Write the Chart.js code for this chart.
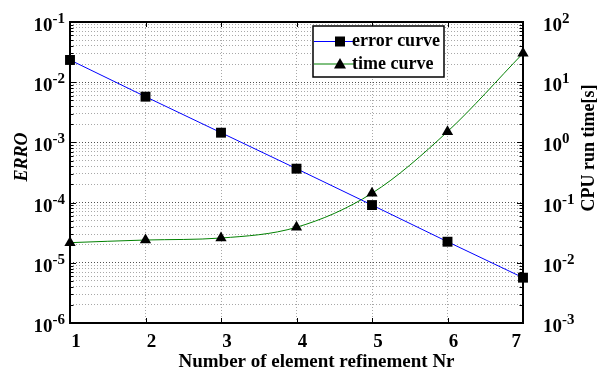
<!DOCTYPE html>
<html><head><meta charset="utf-8">
<script src="https://cdn.jsdelivr.net/npm/chart.js@4/dist/chart.umd.min.js"></script>
<style>html,body{margin:0;padding:0;background:#fff}</style>
</head><body>
<canvas id="c" width="597" height="374"></canvas>
<script>
const categories = ['1','2','3','4','5','6','7'];
const errorValues = [2.34e-2, 5.75e-3, 1.45e-3, 3.66e-4, 9.1e-5, 2.24e-5, 5.66e-6];
const timeValues = [0.0216, 0.0239, 0.0258, 0.0389, 0.143, 1.51, 30.2];
const leftRange = [1e-6, 1e-1];
const rightRange = [1e-3, 1e2];
const seriesNames = ['error curve', 'time curve'];
const xTitle = 'Number of element refinement Nr';
const leftTitle = 'ERRO';
const rightTitle = 'CPU run time[s]';

const SERIF = "'Liberation Serif','Times New Roman',serif";
function isDecade(v){ const l = Math.log10(v); return Math.abs(l - Math.round(l)) < 1e-6; }
function exponentOf(v){ return String(Math.round(Math.log10(v))); }
function logTicks(min, max){
  const out = [];
  const d0 = Math.round(Math.log10(min)), d1 = Math.round(Math.log10(max));
  for (let d = d0; d <= d1; d++) {
    for (let m = 1; m <= 9; m++) {
      const v = Number((m * Math.pow(10, d)).toPrecision(12));
      if (v > max * 1.0000001) break;
      out.push({value: v});
    }
  }
  return out;
}

const BASE_FONT = 'bold 19px ' + SERIF;
const EXP_FONT = 'bold 15px ' + SERIF;

function drawPowerLabel(ctx, v, x, y, side){
  const base = '10', exp = exponentOf(v);
  ctx.font = BASE_FONT; const bw = ctx.measureText(base).width;
  ctx.font = EXP_FONT; const ew = ctx.measureText(exp).width;
  const startX = side === 'left' ? x - bw - ew : x;
  ctx.textAlign = 'left'; ctx.textBaseline = 'alphabetic';
  ctx.font = BASE_FONT; ctx.fillText(base, startX, y + 9);
  ctx.font = EXP_FONT; ctx.fillText(exp, startX + bw, y + 1);
}

const overlay = {
  id: 'overlay',
  afterDatasetsDraw(chart){
    const {ctx, chartArea: a, scales} = chart;
    ctx.save();
    // inward ticks
    ctx.strokeStyle = '#000'; ctx.lineWidth = 1;
    scales.y.ticks.forEach(t => {
      const y = Math.round(scales.y.getPixelForValue(t.value)) + 0.5;
      const len = isDecade(t.value) ? 6 : 3.5;
      ctx.beginPath(); ctx.moveTo(a.left, y); ctx.lineTo(a.left + len, y); ctx.stroke();
    });
    scales.y1.ticks.forEach(t => {
      const y = Math.round(scales.y1.getPixelForValue(t.value)) + 0.5;
      const len = isDecade(t.value) ? 6 : 3.5;
      ctx.beginPath(); ctx.moveTo(a.right, y); ctx.lineTo(a.right - len, y); ctx.stroke();
    });
    scales.x.ticks.forEach((t, i) => {
      const x = Math.round(scales.x.getPixelForValue(i)) + 0.5;
      ctx.beginPath(); ctx.moveTo(x, a.bottom); ctx.lineTo(x, a.bottom - 5); ctx.stroke();
      ctx.beginPath(); ctx.moveTo(x, a.top); ctx.lineTo(x, a.top + 5); ctx.stroke();
    });
    // frame
    ctx.lineWidth = 2;
    ctx.strokeRect(a.left, a.top, a.right - a.left, a.bottom - a.top);

    // tick labels
    ctx.fillStyle = '#000';
    scales.y.ticks.forEach(t => {
      if (isDecade(t.value)) drawPowerLabel(ctx, t.value, a.left - 5, scales.y.getPixelForValue(t.value), 'left');
    });
    scales.y1.ticks.forEach(t => {
      if (isDecade(t.value)) drawPowerLabel(ctx, t.value, a.right + 20, scales.y1.getPixelForValue(t.value), 'right');
    });
    ctx.font = BASE_FONT; ctx.textBaseline = 'alphabetic'; ctx.textAlign = 'center';
    categories.forEach((lab, i) => {
      const w = ctx.measureText(lab).width;
      let x = scales.x.getPixelForValue(i) + 6;
      x = Math.min(x, a.right - 2 - w / 2);
      ctx.fillText(lab, x, 347);
    });

    // legend
    const lx = 313, ly = 26, lw = 131, lh = 51;
    ctx.fillStyle = '#fff';
    ctx.fillRect(lx, ly, lw, lh);
    ctx.lineWidth = 1.5; ctx.strokeStyle = '#000';
    ctx.strokeRect(lx, ly, lw, lh);
    const rows = [41.5, 64];
    chart.data.datasets.forEach((ds, i) => {
      const y = rows[i];
      ctx.strokeStyle = ds.borderColor; ctx.lineWidth = 1;
      ctx.beginPath(); ctx.moveTo(lx + 1, y); ctx.lineTo(lx + 41, y); ctx.stroke();
      ctx.fillStyle = '#000';
      const mx = lx + 27;
      if (ds.pointStyle === 'rect') {
        ctx.fillRect(mx - 5, y - 5, 10, 10);
      } else {
        ctx.beginPath(); ctx.moveTo(mx, y - 6); ctx.lineTo(mx + 6, y + 4.5); ctx.lineTo(mx - 6, y + 4.5); ctx.closePath(); ctx.fill();
      }
      ctx.fillStyle = '#000';
      ctx.font = 'bold 18px ' + SERIF;
      ctx.textAlign = 'left'; ctx.textBaseline = 'middle';
      ctx.fillText(ds.label, lx + 39, y);
    });

    // axis titles
    ctx.fillStyle = '#000';
    ctx.textAlign = 'center'; ctx.textBaseline = 'middle';
    ctx.font = 'italic bold 18px ' + SERIF;
    ctx.save(); ctx.translate(22, 157); ctx.rotate(-Math.PI / 2); ctx.fillText(leftTitle, 0, 0); ctx.restore();
    ctx.font = 'bold 18px ' + SERIF;
    ctx.save(); ctx.translate(589, 148); ctx.rotate(-Math.PI / 2); ctx.fillText(rightTitle, 0, 0); ctx.restore();
    ctx.font = 'bold 19px ' + SERIF;
    ctx.textBaseline = 'alphabetic';
    ctx.fillText(xTitle, 316.5, 367);
    ctx.restore();
  }
};

const gridColor = ctx => (ctx.tick && isDecade(ctx.tick.value)) ? '#505050' : '#a8a8a8';

new Chart(document.getElementById('c'), {
  type: 'line',
  data: {
    labels: categories,
    datasets: [
      {label: seriesNames[0], data: errorValues, yAxisID: 'y', borderColor: '#0000ff', borderWidth: 1,
       pointStyle: 'rect', pointRadius: 7, pointBackgroundColor: '#000', pointBorderColor: '#000', pointBorderWidth: 0,
       cubicInterpolationMode: 'monotone', fill: false},
      {label: seriesNames[1], data: timeValues, yAxisID: 'y1', borderColor: '#008000', borderWidth: 1,
       pointStyle: 'triangle', pointRadius: 6.5, pointBackgroundColor: '#000', pointBorderColor: '#000', pointBorderWidth: 0,
       cubicInterpolationMode: 'monotone', fill: false}
    ]
  },
  options: {
    responsive: false, animation: false, devicePixelRatio: 1,
    layout: {padding: {top: 22, left: 0, right: 0, bottom: 0}},
    plugins: {legend: {display: false}, tooltip: {enabled: false}},
    scales: {
      x: {
        type: 'category', offset: false,
        grid: {color: '#a8a8a8', drawTicks: false, lineWidth: 1},
        border: {display: false, dash: [1, 2]},
        ticks: {display: false, autoSkip: false},
        afterFit(s){ s.height = 51; }
      },
      y: {
        type: 'logarithmic', position: 'left', min: leftRange[0], max: leftRange[1],
        afterBuildTicks(s){ s.ticks = logTicks(leftRange[0], leftRange[1]); },
        ticks: {display: false, autoSkip: false},
        grid: {color: gridColor, drawTicks: false, lineWidth: 1},
        border: {display: false, dash: [1, 2]},
        afterFit(s){ s.width = 70; }
      },
      y1: {
        type: 'logarithmic', position: 'right', min: rightRange[0], max: rightRange[1],
        afterBuildTicks(s){ s.ticks = logTicks(rightRange[0], rightRange[1]); },
        ticks: {display: false, autoSkip: false},
        grid: {drawOnChartArea: false, drawTicks: false},
        border: {display: false},
        afterFit(s){ s.width = 74; }
      }
    }
  },
  plugins: [overlay]
});
</script>
</body></html>
